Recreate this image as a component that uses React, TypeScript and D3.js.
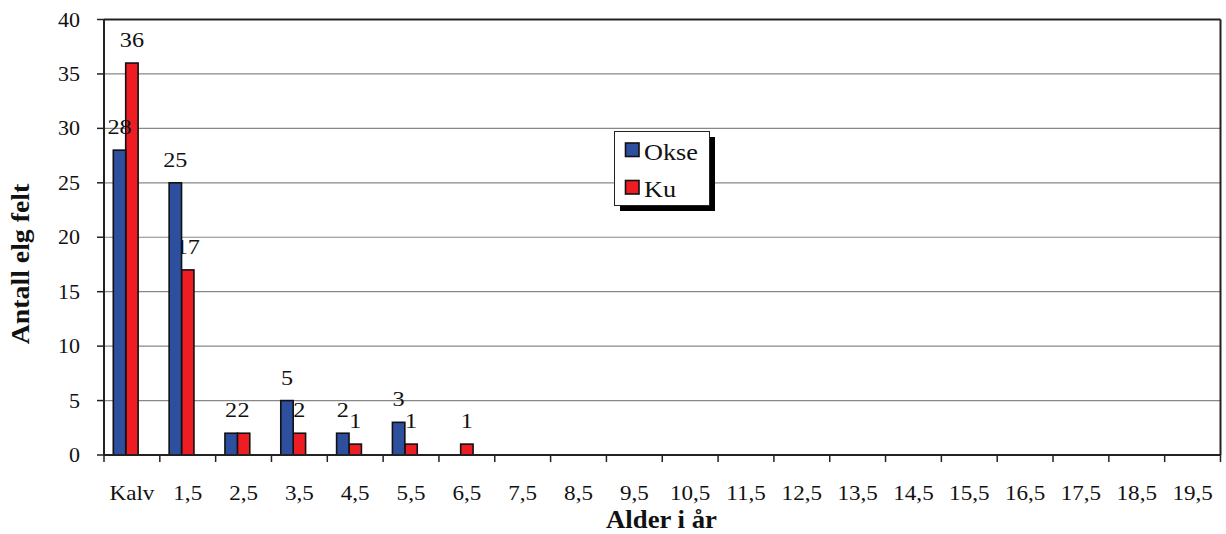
import React from "react";
import * as d3 from "d3";

const categories = ["Kalv","1,5","2,5","3,5","4,5","5,5","6,5","7,5","8,5","9,5","10,5","11,5","12,5","13,5","14,5","15,5","16,5","17,5","18,5","19,5"];
const okse = [28,25,2,5,2,3,0,0,0,0,0,0,0,0,0,0,0,0,0,0];
const ku = [36,17,2,2,1,1,1,0,0,0,0,0,0,0,0,0,0,0,0,0];
const yTicks = [0,5,10,15,20,25,30,35,40];
const seriesNames = ["Okse","Ku"];

const W = 1226, H = 534;
const L = 104, R = 1220.5, T = 19.5, B = 455;
const BLUE = "#2E4E9E";
const RED = "#EE1D23";
const FONT = "Liberation Serif, Times New Roman, Times, serif";

function T2({x, y, size, anchor = "middle", bold = false, children, rotate = 0, sx = 1.1}: any) {
  return (
    <text
      transform={`translate(${x},${y}) rotate(${rotate}) scale(${sx},1)`}
      style={{ fontFamily: FONT, fontSize: size, fontWeight: bold ? 700 : 400 }}
      textAnchor={anchor}
      fill="#111"
    >{children}</text>
  );
}

export default function App() {
  const x = d3.scaleBand<string>().domain(categories).range([L, R]).paddingInner(0).paddingOuter(0);
  const sub = d3.scaleBand<string>().domain([...seriesNames, "_"]).range([0, x.bandwidth()]).paddingInner(0).paddingOuter(0.75);
  const y = d3.scaleLinear().domain([0, 40]).range([B, T]);
  const bw = sub.bandwidth();

  const bars = (vals: number[], name: string, color: string) =>
    vals.map((v, i) => v > 0 ? (
      <rect key={name + i} x={x(categories[i])! + sub(name)!} y={y(v)} width={bw} height={B - y(v)}
        fill={color} stroke="#111" strokeWidth={1.6} />
    ) : null);
  const labels = (vals: number[], name: string) =>
    vals.map((v, i) => v > 0 ? (
      <T2 key={"l" + name + i} x={x(categories[i])! + sub(name)! + bw / 2} y={y(v) - 16} size={22}>{v}</T2>
    ) : null);

  return (
    <div style={{ position: "absolute", left: 0, top: 0 }}>
      <svg width={W} height={H} style={{ display: "block", background: "#fff" }}>
        <rect x={0} y={0} width={W} height={H} fill="#fff" />
        {yTicks.filter(t => t > 0 && t < 40).map(t => (
          <line key={"g" + t} x1={L} x2={R} y1={y(t)} y2={y(t)} stroke="#888" strokeWidth={1.2} />
        ))}
        <line x1={L} x2={R} y1={T} y2={T} stroke="#222" strokeWidth={1.8} />
        <line x1={R} x2={R} y1={T} y2={B} stroke="#222" strokeWidth={2} />
        {yTicks.map(t => (
          <g key={"yt" + t}>
            <line x1={L - 7} x2={L} y1={y(t)} y2={y(t)} stroke="#222" strokeWidth={1.5} />
            <T2 x={80} y={y(t) + 7} size={20} anchor="end">{t}</T2>
          </g>
        ))}
        {categories.map((c) => (
          <line key={"xt" + c} x1={x(c)!} x2={x(c)!} y1={B} y2={B + 7} stroke="#222" strokeWidth={1.5} />
        ))}
        <line x1={R} x2={R} y1={B} y2={B + 7} stroke="#222" strokeWidth={1.5} />
        {categories.map((c) => (
          <T2 key={"xl" + c} x={x(c)! + x.bandwidth() / 2} y={500} size={21}>{c}</T2>
        ))}
        {bars(ku, "Ku", RED)}
        {labels(ku, "Ku")}
        {bars(okse, "Okse", BLUE)}
        {labels(okse, "Okse")}
        <line x1={L} x2={L} y1={T} y2={B} stroke="#222" strokeWidth={2} />
        <line x1={L} x2={R} y1={B} y2={B} stroke="#222" strokeWidth={2} />
        <T2 x={661.5} y={527.5} size={25} bold sx={1.07}>Alder i år</T2>
        <T2 x={28.5} y={264} size={26} bold sx={1.07} rotate={-90}>Antall elg felt</T2>
        <rect x={620} y={137} width={95} height={74} fill="#000" />
        <rect x={614.5} y={131.5} width={95} height={74} fill="#fff" stroke="#222" strokeWidth={1} />
        {seriesNames.map((n, i) => (
          <g key={"lg" + n}>
            <rect x={625.5} y={143 + i * 37.5} width={13.5} height={13.5} fill={i === 0 ? BLUE : RED} stroke="#111" strokeWidth={1.6} />
            <T2 x={644} y={160 + i * 37} size={23} sx={1.14} anchor="start">{n}</T2>
          </g>
        ))}
      </svg>
    </div>
  );
}
